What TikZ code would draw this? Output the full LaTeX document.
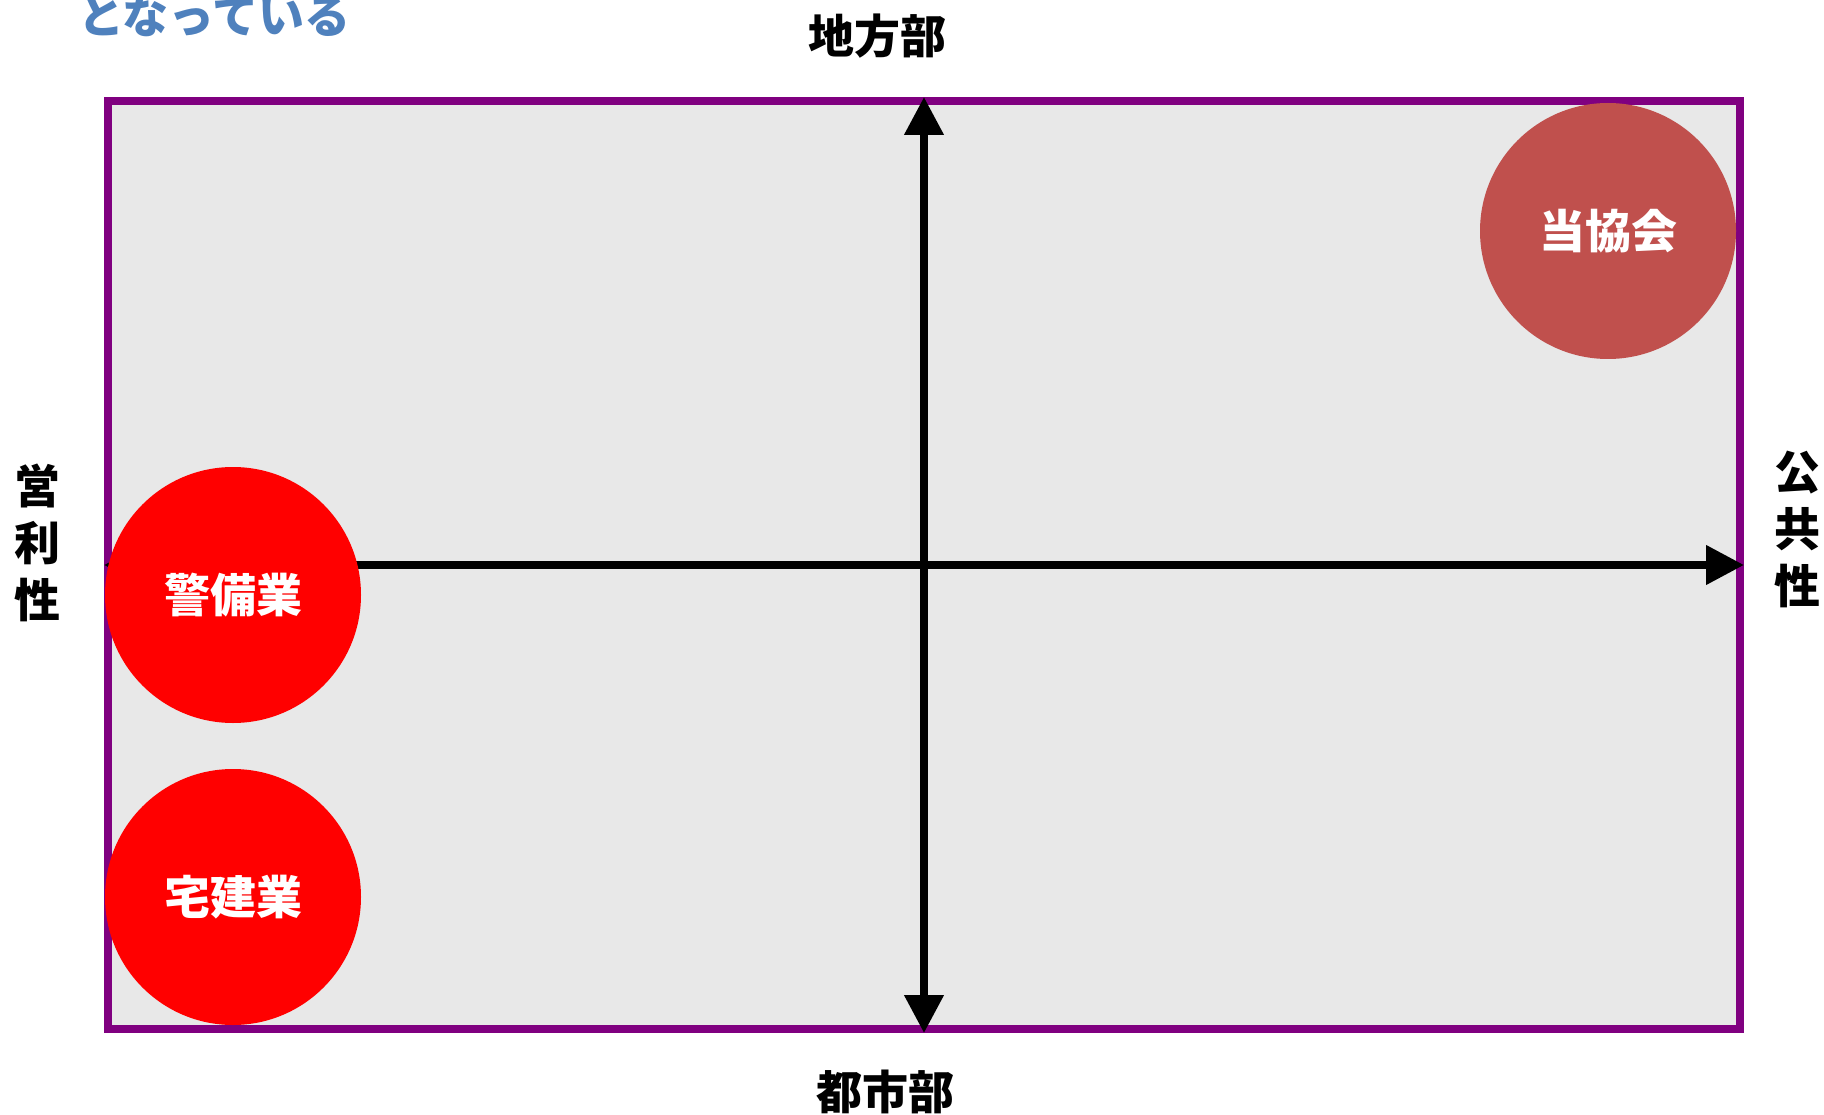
\documentclass[tikz,border=0pt]{standalone}
\usepackage{fontspec}
\newfontfamily\jp{Noto Sans CJK JP}
\usetikzlibrary{arrows.meta}
\definecolor{framec}{HTML}{800080}
\definecolor{bgray}{HTML}{E8E8E8}
\definecolor{assoc}{HTML}{C0504D}
\definecolor{titleblue}{HTML}{4F81BD}
\begin{document}
\begin{tikzpicture}[x=1pt,y=-1pt,
 lbl/.style={font=\jp\bfseries\fontsize{46}{57}\selectfont, inner sep=0pt, align=center},
 bubble/.style={circle, minimum size=256pt, inner sep=0pt, text=white, font=\jp\bfseries\fontsize{46}{56}\selectfont},
 axis/.style={line width=7.5pt, {Triangle[length=38pt,width=38pt]}-{Triangle[length=38pt,width=38pt]}}]
\useasboundingbox (0,0) rectangle (1824,1115);
\node[draw=framec, fill=bgray, line width=8pt, minimum width=1632pt, minimum height=928pt, inner sep=0pt, anchor=north west] (frame) at (104,97) {};
\draw[axis] (frame.south) -- (frame.north);
\draw[axis] (frame.west) -- (frame.east);
\node[bubble, fill=assoc] (kyokai) at (1608,231) {当協会};
\node[bubble, fill=red] (keibi) at (233,595) {警備業};
\node[bubble, fill=red] (takken) at (233,897) {宅建業};
\node[lbl] (north) at (877,36) {地方部};
\node[lbl] (south) at (885,1092) {都市部};
\node[lbl] (west) at (37,543) {営\\利\\性};
\node[lbl] (east) at (1797,529) {公\\共\\性};
\node[font=\jp\bfseries\fontsize{46}{46}\selectfont, text=titleblue, inner sep=0pt, anchor=west] (title) at (78,16) {となっている};
\end{tikzpicture}
\end{document}
